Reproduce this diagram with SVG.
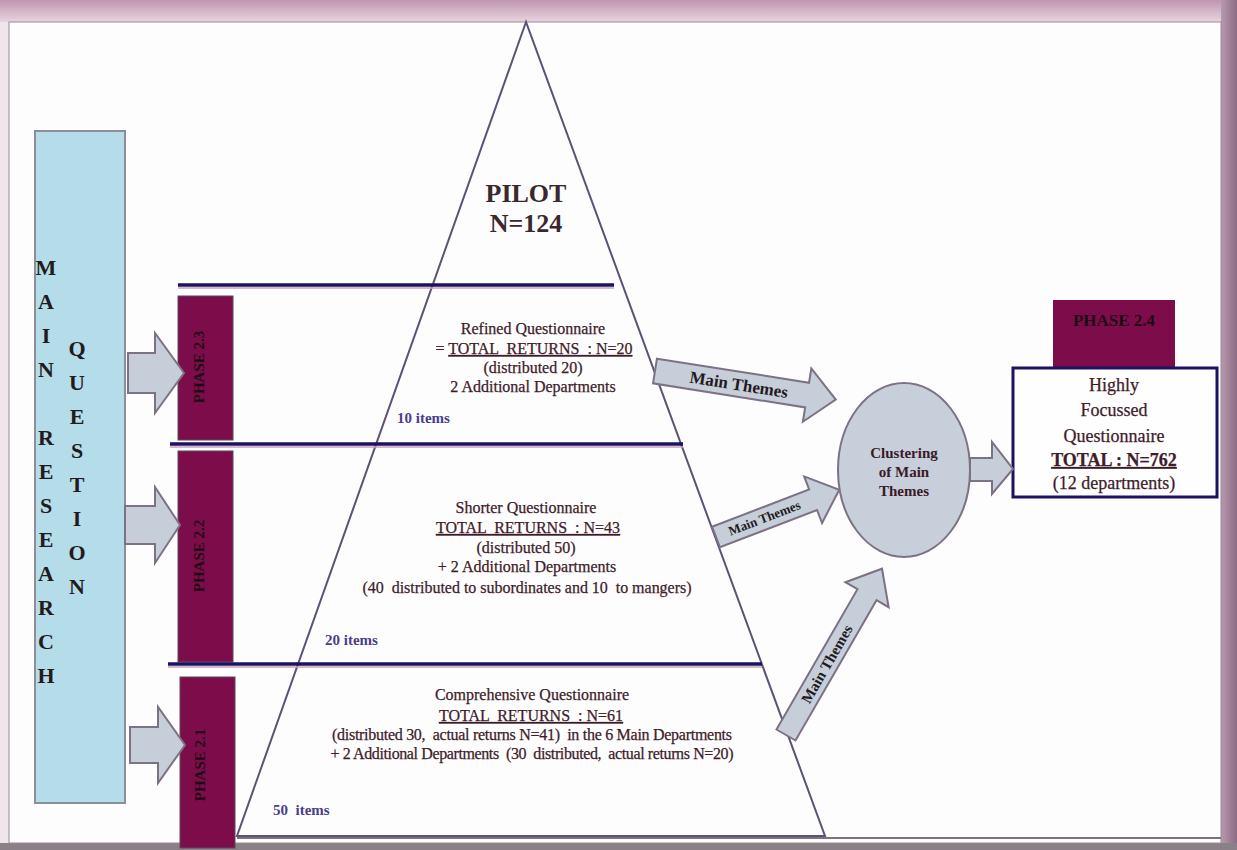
<svg xmlns="http://www.w3.org/2000/svg" width="1237" height="850" viewBox="0 0 1237 850">
<defs>
<linearGradient id="gTop" x1="0" y1="0" x2="0" y2="1"><stop offset="0" stop-color="#c095b1"/><stop offset="1" stop-color="#e8d4df"/></linearGradient>
<linearGradient id="gRight" x1="0" y1="0" x2="1" y2="0"><stop offset="0" stop-color="#b898ad"/><stop offset="1" stop-color="#8c6c84"/></linearGradient>
<style>
.serif{font-family:"Liberation Serif","Times New Roman",serif}
.vl{font-family:"Liberation Serif",serif;font-weight:bold;font-size:22px;fill:#231a1c;text-anchor:middle}
.ph{font-family:"Liberation Serif",serif;font-weight:bold;font-size:15px;fill:#1e0a14;text-anchor:middle}
.body{font-family:"Liberation Serif",serif;font-size:16px;fill:#3e1c2a;text-anchor:middle;white-space:pre;stroke:#3e1c2a;stroke-width:0.25}
.items{font-family:"Liberation Serif",serif;font-weight:bold;font-size:15px;fill:#4b3d8c;white-space:pre}
.mt{font-family:"Liberation Serif",serif;font-weight:bold;font-size:17px;fill:#231a1c;text-anchor:middle}
.blk{fill:#c6ceda;stroke:#7d7184;stroke-width:2;stroke-linejoin:miter}
.bar{fill:#7d0d4a;stroke:#5a4a5a;stroke-width:1}
.hl{stroke:#1c1262;stroke-width:3.5}
.hs{stroke:#c9a0bd;stroke-width:1.5}
.box{font-family:"Liberation Serif",serif;font-size:18px;fill:#3e1c2a;text-anchor:middle;stroke:#3e1c2a;stroke-width:0.25}
</style>
</defs>
<!-- frame -->
<rect x="0" y="0" width="1237" height="850" fill="#efe6ec"/>
<rect x="0" y="0" width="1237" height="22" fill="url(#gTop)"/>
<rect x="1221" y="0" width="16" height="850" fill="url(#gRight)"/>
<rect x="0" y="843" width="1237" height="7" fill="#8a8088"/>
<rect x="9" y="22" width="1212" height="821" fill="#fdfdfd" stroke="#9a8a96" stroke-width="1"/>

<g id="main-question">
<rect x="35" y="131" width="90" height="672" fill="#b4dde9" stroke="#8b8f9a" stroke-width="2"/>
<text class="vl" x="46" y="275">M</text>
<text class="vl" x="46" y="309">A</text>
<text class="vl" x="46" y="343">I</text>
<text class="vl" x="46" y="377">N</text>
<text class="vl" x="46" y="445">R</text>
<text class="vl" x="46" y="479">E</text>
<text class="vl" x="46" y="513">S</text>
<text class="vl" x="46" y="547">E</text>
<text class="vl" x="46" y="581">A</text>
<text class="vl" x="46" y="615">R</text>
<text class="vl" x="46" y="649">C</text>
<text class="vl" x="46" y="683">H</text>
<text class="vl" x="77" y="356">Q</text>
<text class="vl" x="77" y="390">U</text>
<text class="vl" x="77" y="424">E</text>
<text class="vl" x="77" y="458">S</text>
<text class="vl" x="77" y="492">T</text>
<text class="vl" x="77" y="526">I</text>
<text class="vl" x="77" y="560">O</text>
<text class="vl" x="77" y="594">N</text>
</g>

<g id="pyramid">
<polygon points="526,22 237,836 825,836" fill="none" stroke="#5d5274" stroke-width="2"/>
<line x1="237" y1="838" x2="1221" y2="838" stroke="#7a7280" stroke-width="2"/>
</g>

<g id="pilot">
<text class="serif" x="526" y="202" text-anchor="middle" font-weight="bold" font-size="26" fill="#3a282e">PILOT</text>
<text class="serif" x="526" y="232" text-anchor="middle" font-weight="bold" font-size="26" fill="#3a282e">N=124</text>
</g>

<g id="phase-2-3">
<line class="hs" x1="178" y1="288" x2="614" y2="288"/>
<line class="hl" x1="178" y1="285" x2="614" y2="285"/>
<rect class="bar" x="178" y="296" width="55" height="144"/>
<text class="ph" transform="translate(199,367) rotate(-90)" y="5">PHASE 2.3</text>
<text class="body" x="533" y="334">Refined Questionnaire</text>
<text class="body" x="534" y="354">= <tspan text-decoration="underline">TOTAL  RETURNS  : N=20</tspan></text>
<text class="body" x="533" y="373">(distributed 20)</text>
<text class="body" x="533" y="392">2 Additional Departments</text>
<text class="items" x="397" y="423">10 items</text>
</g>

<g id="phase-2-2">
<line class="hs" x1="170" y1="447" x2="683" y2="447"/>
<line class="hl" x1="170" y1="444" x2="683" y2="444"/>
<rect class="bar" x="178" y="451" width="55" height="211"/>
<text class="ph" transform="translate(199,556) rotate(-90)" y="5">PHASE 2.2</text>
<text class="body" x="526" y="513">Shorter Questionnaire</text>
<text class="body" x="528" y="533" text-decoration="underline">TOTAL  RETURNS  : N=43</text>
<text class="body" x="526" y="553">(distributed 50)</text>
<text class="body" x="527" y="572">+ 2 Additional Departments</text>
<text class="body" x="527" y="593" textLength="329">(40  distributed to subordinates and 10  to mangers)</text>
<text class="items" x="325" y="645">20 items</text>
</g>

<g id="phase-2-1">
<line class="hs" x1="168" y1="667" x2="762" y2="667"/>
<line class="hl" x1="168" y1="664" x2="762" y2="664"/>
<rect class="bar" x="180" y="677" width="55" height="171"/>
<text class="ph" transform="translate(200,765) rotate(-90)" y="5">PHASE 2.1</text>
<text class="body" x="532" y="700">Comprehensive Questionnaire</text>
<text class="body" x="531" y="721" text-decoration="underline">TOTAL  RETURNS  : N=61</text>
<text class="body" x="532" y="740" textLength="400">(distributed 30,  actual returns N=41)  in the 6 Main Departments</text>
<text class="body" x="532" y="759" textLength="403">+ 2 Additional Departments  (30  distributed,  actual returns N=20)</text>
<text class="items" x="273" y="815">50  items</text>
</g>

<g id="clustering">
<ellipse cx="904" cy="470" rx="66" ry="87" fill="#c7cfdb" stroke="#7d7184" stroke-width="2"/>
<text class="serif" x="904" y="458" text-anchor="middle" font-weight="bold" font-size="15" fill="#3a1a26">Clustering</text>
<text class="serif" x="904" y="477" text-anchor="middle" font-weight="bold" font-size="15" fill="#3a1a26">of Main</text>
<text class="serif" x="904" y="496" text-anchor="middle" font-weight="bold" font-size="15" fill="#3a1a26">Themes</text>
</g>

<g id="phase-2-4">
<rect x="1053" y="300" width="122" height="68" fill="#7d0d4a"/>
<text class="ph" x="1114" y="326" style="font-size:17px">PHASE 2.4</text>
<rect x="1013" y="368" width="204" height="129" fill="#fefefe" stroke="#1c1262" stroke-width="3"/>
<text class="box" x="1114" y="391">Highly</text>
<text class="box" x="1114" y="416">Focussed</text>
<text class="box" x="1114" y="442">Questionnaire</text>
<text class="box" x="1114" y="466" font-weight="bold" text-decoration="underline">TOTAL : N=762</text>
<text class="box" x="1114" y="489">(12 departments)</text>
</g>

<g id="connectors">
<path class="blk" d="M128,353 H155 V333 L184,373 L155,413 V393 H128 Z"/>
<path class="blk" d="M125,506 H155 V487 L180,525 L155,563 V544 H125 Z"/>
<path class="blk" d="M130,727 H158 V707 L185,745 L158,783 V763 H130 Z"/>
<g transform="translate(655,371) rotate(9)">
<path class="blk" d="M0,-12.5 H154 V-27 L183,0 L154,27 V12.5 H0 Z"/>
<text class="mt" x="85" y="6">Main Themes</text>
</g>
<g transform="translate(716,537) rotate(-21)">
<path class="blk" d="M0,-11 H104 V-25 L132,0 L104,25 V11 H0 Z"/>
<text class="mt" x="52" y="4" style="font-size:13px">Main Themes</text>
</g>
<g transform="translate(786,735) rotate(-60)">
<path class="blk" d="M0,-11 H162 V-25 L192,0 L162,25 V11 H0 Z"/>
<text class="mt" x="82" y="5" style="font-size:15px">Main Themes</text>
</g>
<path class="blk" d="M970,458 H992 V442 L1013,469 L992,494 V481 H970 Z"/>
</g>
</svg>
